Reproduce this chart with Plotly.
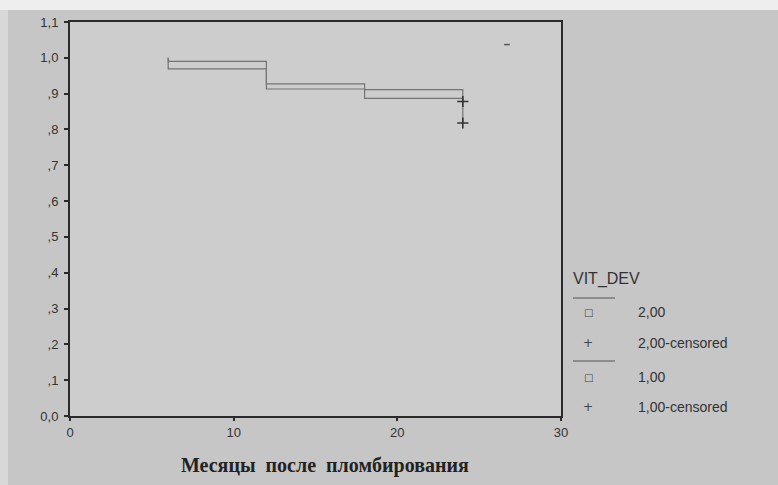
import plotly.graph_objects as go

# ---- data ----
group2_time = [6, 12, 18, 24]
group2_surv = [0.990, 0.927, 0.911, 0.878]
group2_cens_time = [24]
group2_cens_surv = [0.878]

group1_time = [6, 12, 18, 24]
group1_surv = [0.969, 0.913, 0.887, 0.818]
group1_cens_time = [24]
group1_cens_surv = [0.818]

start_surv = 1.0
stray_time = [26.7]
stray_val = [1.037]

x_ticks = [0, 10, 20, 30]
x_ticklabels = ["0", "10", "20", "30"]
y_ticks = [0.0, 0.1, 0.2, 0.3, 0.4, 0.5, 0.6, 0.7, 0.8, 0.9, 1.0, 1.1]
y_ticklabels = ["0,0", ",1", ",2", ",3", ",4", ",5", ",6", ",7", ",8", ",9", "1,0", "1,1"]

legend_title = "VIT_DEV"
legend_labels = ["2,00", "2,00-censored", "1,00", "1,00-censored"]
x_title = "Месяцы  после  пломбирования"

W, H = 778, 485
ML, MR, MT, MB = 70, 217, 22, 69
PW, PH = W - ML - MR, H - MT - MB

def px_x(p):
    return (p - ML) / PW

def px_y(p):
    return (H - MB - p) / PH

line_col = "#747474"
ink = "#2a2a2a"

fig = go.Figure()

for t, s in [(group2_time, group2_surv), (group1_time, group1_surv)]:
    fig.add_trace(go.Scatter(
        x=[t[0]] + t, y=[start_surv] + s, mode="lines", line_shape="hv",
        line=dict(color=line_col, width=1.2), showlegend=False, hoverinfo="skip"))

for t, s in [(group2_cens_time, group2_cens_surv), (group1_cens_time, group1_cens_surv)]:
    fig.add_trace(go.Scatter(
        x=t, y=s, mode="markers",
        marker=dict(symbol="cross-thin", size=8, line=dict(color="#333333", width=1.6)),
        showlegend=False, hoverinfo="skip"))

fig.add_trace(go.Scatter(
    x=stray_time, y=stray_val, mode="markers",
    marker=dict(symbol="line-ew", size=4, line=dict(color="#555555", width=1.5)),
    showlegend=False, hoverinfo="skip"))

font_sans = "Liberation Sans, Arial, sans-serif"

fig.update_layout(
    width=W, height=H,
    margin=dict(l=ML, r=MR, t=MT, b=MB),
    paper_bgcolor="#c6c6c6",
    plot_bgcolor="#cdcdcd",
    showlegend=False,
    font=dict(family=font_sans, color="#333333", size=13),
    xaxis=dict(range=[0, 30], tickvals=x_ticks, ticktext=x_ticklabels,
               showgrid=False, zeroline=False, showline=True, mirror=True,
               linecolor=ink, linewidth=2, ticks="outside", ticklen=3,
               tickwidth=2, tickcolor=ink, tickfont=dict(size=13, color="#333333")),
    yaxis=dict(range=[0, 1.1], tickvals=y_ticks, ticktext=y_ticklabels,
               showgrid=False, zeroline=False, showline=True, mirror=True,
               linecolor=ink, linewidth=2, ticks="outside", ticklen=4,
               tickwidth=2, tickcolor=ink, ticklabelstandoff=3,
               tickfont=dict(size=13, color="#333333")),
)

shapes = []
# photo edges
shapes.append(dict(type="rect", xref="paper", yref="paper",
                   x0=px_x(0), x1=px_x(W), y0=px_y(10), y1=px_y(0),
                   fillcolor="#eeeeee", line=dict(width=0), layer="below"))
shapes.append(dict(type="rect", xref="paper", yref="paper",
                   x0=px_x(0), x1=px_x(8), y0=px_y(H), y1=px_y(10),
                   fillcolor="#d8d8d8", line=dict(width=0), layer="below"))
# legend separators
for yy in [298, 361]:
    shapes.append(dict(type="line", xref="paper", yref="paper",
                       x0=px_x(573), x1=px_x(615), y0=px_y(yy), y1=px_y(yy),
                       line=dict(color="#555555", width=1)))
fig.update_layout(shapes=shapes)

ann = []
ann.append(dict(text=legend_title, xref="paper", yref="paper", x=px_x(571), y=px_y(279),
                xanchor="left", yanchor="middle", showarrow=False,
                font=dict(family=font_sans, size=16, color="#333333")))
item_y = [312, 343, 377, 407]
for lab, yy in zip(legend_labels, item_y):
    sym = "+" if "censored" in lab else "□"
    ann.append(dict(text=sym, xref="paper", yref="paper", x=px_x(588), y=px_y(yy),
                    xanchor="center", yanchor="middle", showarrow=False,
                    font=dict(family="DejaVu Sans", size=10 if sym == "□" else 12, color="#444444")))
    ann.append(dict(text=lab, xref="paper", yref="paper", x=px_x(636), y=px_y(yy),
                    xanchor="left", yanchor="middle", showarrow=False,
                    font=dict(family=font_sans, size=14, color="#333333")))
ann.append(dict(text="<b>" + x_title + "</b>", xref="paper", yref="paper",
                x=px_x(325), y=px_y(465), xanchor="center", yanchor="middle", showarrow=False,
                font=dict(family="Liberation Serif, Times New Roman, serif", size=20, color="#222222")))
fig.update_layout(annotations=ann)

fig.write_html("out.html")
